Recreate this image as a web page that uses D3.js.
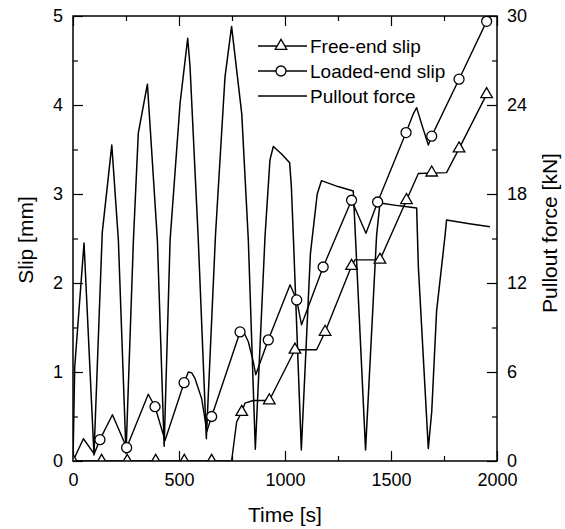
<!DOCTYPE html>
<html lang="en">
<head>
    <meta charset="UTF-8">
    <title>Slip and pullout force vs time</title>
    <script src="https://d3js.org/d3.v7.min.js"></script>
    <style>
        body {
            margin: 0;
            background: #fff;
        }
        svg text {
            font-family: "Liberation Sans", Arial, sans-serif;
            fill: #000;
        }
        .tick line {
            stroke: #000;
            stroke-width: 1.2;
        }
        .tick text {
            font-size: 18px;
        }
        .axis-title {
            font-size: 21px;
        }
        .legend text {
            font-size: 19px;
        }
    </style>
</head>
<body>
    <div id="chart"></div>
    <script>
        // pullout force [s, kN]
        const forceData = [
            [0, 0], [8, 6.3], [52, 14.7], [99, 0.4],
            [138, 15.4], [183, 21.3], [214, 14.9], [250, 0.5],
            [285, 14.9], [308, 22.1], [351, 25.4], [398, 14.9], [430, 1.0],
            [458, 14.9], [505, 24.1], [541, 28.5], [552, 26.6], [591, 14.9], [629, 1.5],
            [672, 15.2], [717, 25.9], [748, 29.3], [796, 23.4], [827, 14.9], [860, 0.8],
            [906, 15.2], [929, 20.3], [945, 21.2], [984, 20.7], [1022, 20.1], [1030, 18.5], [1040, 14.9], [1077, 0.75],
            [1120, 14.0], [1152, 18.0], [1172, 18.9], [1250, 18.5], [1322, 18.2], [1336, 14.0], [1380, 0.75],
            [1432, 15.2], [1448, 17.4], [1540, 17.2], [1621, 17.05], [1629, 13.1], [1676, 0.85],
            [1692, 3.3], [1715, 10.1], [1755, 15.2], [1762, 16.25], [1870, 16.0], [1967, 15.8]
        ];

        // loaded-end slip line [s, mm] and its markers
        const loadedLine = [
            [0, 0], [49, 0.25], [100, 0.08], [127, 0.24], [186, 0.52], [253, 0.15],
            [355, 0.75], [387, 0.61], [434, 0.23], [524, 0.88], [544, 1.0], [560, 0.99],
            [575, 0.93], [607, 0.70], [627, 0.40], [631, 0.33], [654, 0.50],
            [788, 1.45], [803, 1.46], [827, 1.34], [850, 1.12], [862, 0.97], [921, 1.36],
            [1024, 1.98], [1055, 1.81], [1078, 1.53], [1180, 2.18], [1314, 2.93],
            [1382, 2.56], [1437, 2.91], [1571, 3.69], [1605, 3.9], [1621, 3.97],
            [1644, 3.79], [1676, 3.55], [1692, 3.65], [1821, 4.29], [1951, 4.94]
        ];
        const loadedMarks = [
            [127, 0.24], [253, 0.15], [387, 0.61], [524, 0.88], [654, 0.5],
            [788, 1.45], [921, 1.36], [1055, 1.81], [1180, 2.18], [1314, 2.93],
            [1437, 2.91], [1571, 3.69], [1692, 3.65], [1821, 4.29], [1951, 4.94]
        ];

        // free-end slip line [s, mm] and its markers
        const freeLine = [
            [0, 0], [748, 0], [772, 0.44], [796, 0.55], [811, 0.65], [850, 0.68],
            [926, 0.68], [1047, 1.25], [1149, 1.25], [1189, 1.45], [1314, 2.19],
            [1330, 2.26], [1448, 2.26], [1573, 2.93], [1629, 3.23], [1762, 3.24],
            [1821, 3.51], [1951, 4.12]
        ];
        const freeMarks = [
            [0, 0], [135, 0], [256, 0], [390, 0], [525, 0], [654, 0],
            [796, 0.55], [926, 0.68], [1047, 1.25], [1189, 1.45], [1314, 2.19],
            [1448, 2.26], [1573, 2.93], [1692, 3.24], [1821, 3.51], [1951, 4.12]
        ];

        const timeTicks = [0, 500, 1000, 1500, 2000];
        const timeMinor = [250, 750, 1250, 1750];
        const slipTicks = [0, 1, 2, 3, 4, 5];
        const slipMinor = [0.5, 1.5, 2.5, 3.5, 4.5];
        const forceTicks = [0, 6, 12, 18, 24, 30];
        const forceMinor = [3, 9, 15, 21, 27];
        const legendLabels = ["Free-end slip", "Loaded-end slip", "Pullout force"];

        const W = 565, H = 529;
        const margin = { top: 16, right: 68, bottom: 68, left: 73 };
        const width = W - margin.left - margin.right;
        const height = H - margin.top - margin.bottom;

        const svg = d3.select("#chart")
            .append("svg")
            .attr("width", W)
            .attr("height", H)
            .append("g")
            .attr("transform", `translate(${margin.left},${margin.top})`);

        const x = d3.scaleLinear().domain([0, 2000]).range([0, width]);
        const y = d3.scaleLinear().domain([0, 5]).range([height, 0]);
        const yF = d3.scaleLinear().domain([0, 30]).range([height, 0]);
        const fmt = d3.format("d");

        svg.append("defs").append("clipPath")
            .attr("id", "plot-clip")
            .append("rect")
            .attr("width", width)
            .attr("height", height);

        // ticks, all pointing inward
        const addAxis = (axis, transform, showLabels) => {
            const g = svg.append("g")
                .attr("transform", transform)
                .call(axis);
            g.select(".domain").remove();
            if (!showLabels) g.selectAll("text").remove();
            return g;
        };

        addAxis(d3.axisBottom(x).tickValues(timeTicks).tickFormat(fmt).tickSize(-10).tickPadding(12), `translate(0,${height})`, true);
        addAxis(d3.axisBottom(x).tickValues(timeMinor).tickSize(-5), `translate(0,${height})`, false);
        addAxis(d3.axisTop(x).tickValues(timeTicks).tickSize(-10), "translate(0,0)", false);
        addAxis(d3.axisTop(x).tickValues(timeMinor).tickSize(-5), "translate(0,0)", false);

        addAxis(d3.axisLeft(y).tickValues(slipTicks).tickFormat(fmt).tickSize(-10).tickPadding(10), "translate(0,0)", true);
        addAxis(d3.axisLeft(y).tickValues(slipMinor).tickSize(-5), "translate(0,0)", false);

        addAxis(d3.axisRight(yF).tickValues(forceTicks).tickFormat(fmt).tickSize(-10).tickPadding(10), `translate(${width},0)`, true);
        addAxis(d3.axisRight(yF).tickValues(forceMinor).tickSize(-5), `translate(${width},0)`, false);

        const plot = svg.append("g").attr("clip-path", "url(#plot-clip)");

        // pullout force
        plot.append("path")
            .datum(forceData)
            .attr("fill", "none")
            .attr("stroke", "#000")
            .attr("stroke-width", 1.5)
            .attr("stroke-linejoin", "round")
            .attr("d", d3.line().x(d => x(d[0])).y(d => yF(d[1])));

        const slipLine = d3.line().x(d => x(d[0])).y(d => y(d[1]));

        plot.append("path")
            .datum(loadedLine)
            .attr("fill", "none")
            .attr("stroke", "#000")
            .attr("stroke-width", 1.4)
            .attr("stroke-linejoin", "round")
            .attr("d", slipLine);

        plot.append("path")
            .datum(freeLine)
            .attr("fill", "none")
            .attr("stroke", "#000")
            .attr("stroke-width", 1.4)
            .attr("stroke-linejoin", "round")
            .attr("d", slipLine);

        const tri = d3.symbol().type(d3.symbolTriangle).size(58);

        plot.selectAll(".free-mark")
            .data(freeMarks)
            .enter()
            .append("path")
            .attr("class", "free-mark")
            .attr("d", tri)
            .attr("transform", d => `translate(${x(d[0])},${y(d[1])})`)
            .attr("fill", "#fff")
            .attr("stroke", "#000")
            .attr("stroke-width", 1.3);

        plot.selectAll(".loaded-mark")
            .data(loadedMarks)
            .enter()
            .append("circle")
            .attr("class", "loaded-mark")
            .attr("cx", d => x(d[0]))
            .attr("cy", d => y(d[1]))
            .attr("r", 5)
            .attr("fill", "#fff")
            .attr("stroke", "#000")
            .attr("stroke-width", 1.3);

        // frame
        svg.append("rect")
            .attr("width", width)
            .attr("height", height)
            .attr("fill", "none")
            .attr("stroke", "#000")
            .attr("stroke-width", 1.5);

        // legend
        const legend = svg.append("g")
            .attr("class", "legend")
            .attr("transform", "translate(185,30)");

        legendLabels.forEach((label, i) => {
            const row = legend.append("g").attr("transform", `translate(0,${i * 25})`);
            row.append("line")
                .attr("x1", 0).attr("x2", 49)
                .attr("y1", 0).attr("y2", 0)
                .attr("stroke", "#000")
                .attr("stroke-width", 1.3);
            if (i === 0) {
                row.append("path")
                    .attr("d", tri)
                    .attr("transform", "translate(23,0)")
                    .attr("fill", "#fff")
                    .attr("stroke", "#000")
                    .attr("stroke-width", 1.3);
            } else if (i === 1) {
                row.append("circle")
                    .attr("cx", 23).attr("cy", 0).attr("r", 5)
                    .attr("fill", "#fff")
                    .attr("stroke", "#000")
                    .attr("stroke-width", 1.3);
            }
            row.append("text")
                .attr("x", 52)
                .attr("y", 0)
                .attr("dy", "0.35em")
                .text(label);
        });

        // axis titles
        svg.append("text")
            .attr("class", "axis-title")
            .attr("text-anchor", "middle")
            .attr("transform", `translate(${33 - margin.left},${240 - margin.top}) rotate(-90)`)
            .text("Slip [mm]");

        svg.append("text")
            .attr("class", "axis-title")
            .attr("text-anchor", "middle")
            .attr("transform", `translate(${557 - margin.left},${233 - margin.top}) rotate(-90)`)
            .text("Pullout force [kN]");

        svg.append("text")
            .attr("class", "axis-title")
            .attr("text-anchor", "middle")
            .attr("x", width / 2)
            .attr("y", 522 - margin.top)
            .text("Time [s]");
    </script>
</body>
</html>
